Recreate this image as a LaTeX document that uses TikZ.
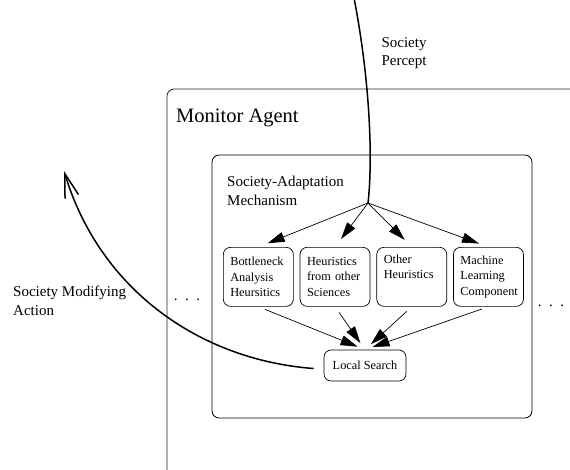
\documentclass[tikz,border=0pt]{standalone}
\usepackage{fontspec}
\setmainfont{Liberation Serif}
\usetikzlibrary{arrows.meta,positioning}

\begin{document}
\begin{tikzpicture}[x=1pt, y=-1pt,
  heur/.style={draw, line width=0.7pt, rounded corners=2.5mm, text width=56pt, minimum height=59pt, inner xsep=7pt, inner ysep=5pt, align=left, anchor=north west, font=\fontsize{12.3}{15.5}\selectfont},
  lsbox/.style={draw, line width=0.7pt, rounded corners=2.5mm, minimum width=82pt, minimum height=31pt, font=\fontsize{12.3}{15.5}\selectfont},
  panel/.style={draw, line width=0.8pt, rounded corners=2.5mm, minimum width=320pt, minimum height=263pt},
  frame/.style={draw=black!85, line width=0.8pt, rounded corners=2.5mm},
  lbl/.style={inner sep=0pt, align=left, font=\fontsize{15}{18.5}\selectfont},
  arrow/.style={-{Triangle[length=17pt,width=10pt]}, line width=0.7pt},
  flow/.style={line width=1.5pt}
]
\useasboundingbox (0,0) rectangle (570,469);
% monitor agent frame, cut by the page
\draw[frame] (167,473) -- (167,89) -- (574,89);
\node[lbl, anchor=base west, font=\fontsize{20.5}{24}\selectfont] (ma) at (176,122) {Monitor Agent};
% society-adaptation mechanism
\node[panel] (sam) at (372,286.5) {};
\node[lbl, anchor=north west] (sa) at (227,176) {Society-Adaptation\\Mechanism};
\node[heur] (bn) at (223,247) {Bottleneck\\Analysis\\Heursitics};
\node[heur, right=6pt of bn] (hs) {Heuristics\\from other\\Sciences};
\node[heur, right=6pt of hs] (oh) {Other\\Heuristics\\\strut};
\node[heur, right=6pt of oh] (ml) {Machine\\Learning\\Component};
\node[lsbox] (ls) at (365,365.5) {Local Search};
\node[lbl, anchor=base] (dl) at (187,300) {.\hskip7.5pt.\hskip7.5pt.};
\node[lbl, anchor=base] (dr) at (551,306) {.\hskip7.5pt.\hskip7.5pt.};
% percept and action
\coordinate (src) at (354,-2);
\coordinate (split) at (368,203);
\coordinate (act) at (64,171);
\node[lbl, align=center, anchor=north] (sp) at (404,37) {Society\\Percept};
\node[lbl, anchor=north west] (smod) at (13,286) {Society Modifying\\Action};
\draw[flow] (src) .. controls (370,80) and (373,160) .. (split);
\foreach \b in {bn,hs,oh,ml}
  \draw[arrow, shorten >=10pt] (split) -- (\b.north);
\foreach \b in {bn,hs,oh,ml}
  \draw[arrow, shorten <=7pt, shorten >=8pt] (\b.south) -- (ls.north);
\draw[flow, -{Straight Barb[length=24pt,width=14pt]}] ([xshift=-10pt,yshift=-3pt]ls.west) .. controls (200,360) and (100,290) .. (act);
\end{tikzpicture}
\end{document}
